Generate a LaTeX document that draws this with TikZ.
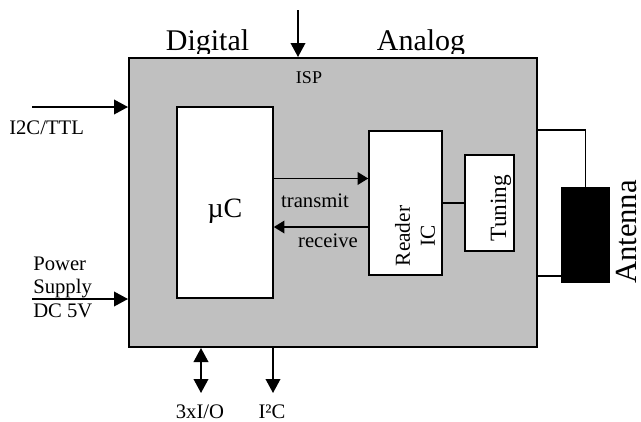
\documentclass[tikz,border=0pt]{standalone}
\usepackage{fontspec}
\setmainfont{Liberation Serif}
\usetikzlibrary{arrows.meta, positioning, fit}
\definecolor{ispgray}{HTML}{C0C0C0}

\begin{document}
\begin{tikzpicture}[
  x=0.75pt, y=-0.75pt,
  box/.style={rectangle, draw=black, fill=white, line width=1.2pt, inner sep=0pt},
  arrow/.style={-{Triangle[length=10.5pt, width=11pt]}, line width=1.2pt},
  dblarrow/.style={{Triangle[length=10.5pt, width=11pt]}-{Triangle[length=10.5pt, width=11pt]}, line width=1.2pt},
  smallarrow/.style={-{Triangle[length=8pt, width=9.5pt]}, line width=1.2pt},
  wire/.style={line width=1.2pt},
  lbl/.style={font=\fontsize{15.5}{17.6}\selectfont, inner sep=0pt},
  biglbl/.style={font=\fontsize{22.5}{26}\selectfont, inner sep=0pt},
  rotlbl/.style={rotate=90, inner sep=0pt, align=center}
]
  \useasboundingbox (0,0) rectangle (641,421);

  % headings, cut off just above the module
  \begin{scope}
    \clip (0,0) rectangle (641,53);
    \node[biglbl, anchor=base] (digital) at (207.5,50) {Digital};
    \node[biglbl, anchor=base] (analog) at (421,50) {Analog};
  \end{scope}

  \node[box, fill=ispgray, line width=1.5pt, fit={(129,58) (537,347)}] (isp) {};
  \node[lbl, font=\fontsize{13.5}{16}\selectfont, anchor=base] (isplbl) at (309,83) {ISP};

  \node[box, fit={(177,107) (273,298)}] (uc) {};
  \node[lbl, font=\fontsize{21}{24}\selectfont, anchor=base] (uclbl) at (225,217) {µC};
  \node[box, fit={(369,131) (442,275)}] (reader) {};
  \node[rotlbl, font=\fontsize{16}{18.75}\selectfont] (readerlbl) at (415,236) {Reader\\IC};
  \node[box, fit={(465,155) (514,251)}] (tuning) {};
  \node[rotlbl, font=\fontsize{17.5}{20}\selectfont] (tuninglbl) at (501,208) {Tuning};
  \node[rectangle, fill=black, inner sep=0pt, fit={(561,187) (610,283)}] (antenna) {};
  \node[rotlbl, anchor=base, font=\fontsize{23}{27}\selectfont] (antennalbl) at (636,232) {Antenna};

  % external lines
  \coordinate (ttlin) at (32,107);
  \coordinate (pwrin) at (32,299);
  \coordinate (ispin) at (298,10);
  \coordinate (io) at (201,393);
  \coordinate (i2cout) at (273,393);

  \draw[arrow] (ttlin) -- (ttlin -| isp.west);
  \draw[arrow] (pwrin) -- (pwrin -| isp.west);
  \draw[arrow] (ispin) -- (ispin |- isp.north);
  \draw[dblarrow] (io |- isp.south) -- (io);
  \draw[arrow] (i2cout |- isp.south) -- (i2cout);

  \node[lbl, anchor=base west] (ttllbl) at (9,134) {I2C/TTL};
  \node[lbl, anchor=north west, align=left] (pwrlbl) at (33,256.5) {Power\\Supply\\DC 5V};
  \node[lbl, anchor=base] (iolbl) at (200,418) {3xI/O};
  \node[lbl, anchor=base] (i2clbl) at (272,418) {I²C};

  % inside the module
  \draw[smallarrow] ([yshift=18pt]uc.east) -- ([yshift=18pt]uc.east -| reader.west);
  \draw[smallarrow] ([yshift=-18pt]reader.west) -- ([yshift=-18pt]reader.west -| uc.east);
  \node[lbl, anchor=base] (txlbl) at (315,207) {transmit};
  \node[lbl, anchor=base] (rxlbl) at (328,247) {receive};
  \draw[wire] (reader.east) -- (tuning.west);

  % antenna loop
  \draw[wire] (isp.east |- reader.north) -| (antenna.north);
  \draw[wire] (isp.east |- reader.south) -- (antenna.west |- reader.south);
\end{tikzpicture}
\end{document}
